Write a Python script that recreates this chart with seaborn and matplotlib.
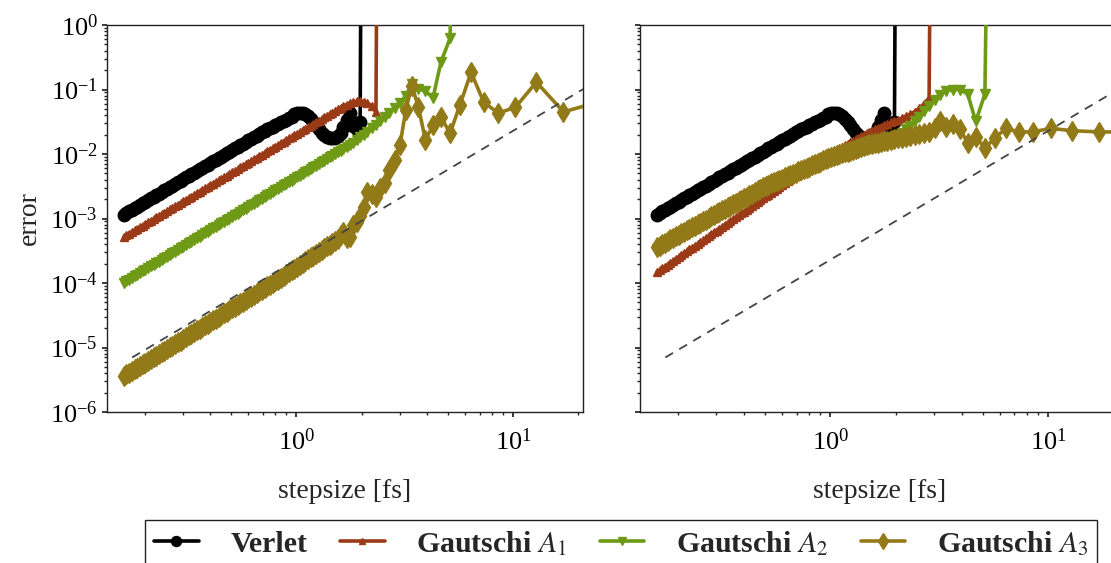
import matplotlib
matplotlib.use("Agg")
import matplotlib.pyplot as plt
import matplotlib.ticker as ticker
import seaborn as sns

# ── Data ──────────────────────────────────────────────────────────────────────
# stepsizes in fs: dense sweep up to ~1.5 fs, then the coarse steps

STEPSIZE = [
    0.1600, 0.1647, 0.1695, 0.1744, 0.1795, 0.1848, 0.1902, 0.1957, 0.2014, 0.2073,
    0.2134, 0.2196, 0.2260, 0.2326, 0.2394, 0.2464, 0.2536, 0.2610, 0.2686, 0.2764,
    0.2845, 0.2928, 0.3014, 0.3102, 0.3192, 0.3286, 0.3382, 0.3480, 0.3582, 0.3687,
    0.3794, 0.3905, 0.4019, 0.4136, 0.4257, 0.4381, 0.4509, 0.4641, 0.4777, 0.4916,
    0.5060, 0.5207, 0.5360, 0.5516, 0.5677, 0.5843, 0.6013, 0.6189, 0.6370, 0.6556,
    0.6747, 0.6944, 0.7147, 0.7356, 0.7570, 0.7792, 0.8019, 0.8253, 0.8494, 0.8742,
    0.8997, 0.9260, 0.9531, 0.9809, 1.0095, 1.0390, 1.0693, 1.1006, 1.1327, 1.1658,
    1.1998, 1.2349, 1.2709, 1.3080, 1.3462, 1.3855, 1.4260, 1.4676, 1.5105,
    1.55, 1.60, 1.65, 1.71, 1.77, 1.83, 1.90, 1.97, 2.05, 2.13,
    2.23, 2.33, 2.44, 2.56, 2.69, 2.84, 3.01, 3.20, 3.41, 3.66,
    3.94, 4.27, 4.65, 5.12, 5.69, 6.40, 7.31, 8.53, 10.24, 12.80,
    17.07, 25.60,
]

BLOWUP = 1e10  # diverged run, the line leaves through the top of the axes

VERLET = [
    1.150e-3, 1.218e-3, 1.290e-3, 1.367e-3, 1.448e-3, 1.534e-3, 1.624e-3, 1.721e-3, 1.823e-3, 1.931e-3,
    2.045e-3, 2.166e-3, 2.295e-3, 2.431e-3, 2.575e-3, 2.727e-3, 2.889e-3, 3.060e-3, 3.241e-3, 3.433e-3,
    3.637e-3, 3.852e-3, 4.080e-3, 4.322e-3, 4.578e-3, 4.850e-3, 5.137e-3, 5.441e-3, 5.764e-3, 6.105e-3,
    6.467e-3, 6.850e-3, 7.256e-3, 7.686e-3, 8.141e-3, 8.624e-3, 9.135e-3, 9.676e-3, 1.025e-2, 1.086e-2,
    1.150e-2, 1.218e-2, 1.290e-2, 1.367e-2, 1.448e-2, 1.534e-2, 1.624e-2, 1.721e-2, 1.823e-2, 1.930e-2,
    2.050e-2, 2.160e-2, 2.280e-2, 2.400e-2, 2.530e-2, 2.660e-2, 2.800e-2, 2.950e-2, 3.100e-2, 3.250e-2,
    3.400e-2, 3.600e-2, 3.800e-2, 4.100e-2, 4.250e-2, 4.300e-2, 4.250e-2, 4.100e-2, 3.850e-2, 3.500e-2,
    3.150e-2, 2.800e-2, 2.450e-2, 2.150e-2, 1.950e-2, 1.820e-2, 1.760e-2, 1.750e-2, 1.780e-2,
    0.0190, 0.0215, 0.0260, 0.0340, 0.0430, 0.0270, 0.0240, 0.0310, BLOWUP,
]

# left panel
A1_LEFT = [
    5.20e-4, 5.51e-4, 5.83e-4, 6.18e-4, 6.55e-4, 6.93e-4, 7.35e-4, 7.78e-4, 8.24e-4, 8.73e-4,
    9.25e-4, 9.79e-4, 1.038e-3, 1.099e-3, 1.164e-3, 1.233e-3, 1.306e-3, 1.384e-3, 1.466e-3, 1.552e-3,
    1.644e-3, 1.742e-3, 1.845e-3, 1.954e-3, 2.070e-3, 2.193e-3, 2.323e-3, 2.460e-3, 2.606e-3, 2.761e-3,
    2.924e-3, 3.097e-3, 3.281e-3, 3.475e-3, 3.681e-3, 3.899e-3, 4.131e-3, 4.375e-3, 4.635e-3, 4.909e-3,
    5.200e-3, 5.508e-3, 5.834e-3, 6.180e-3, 6.546e-3, 6.934e-3, 7.345e-3, 7.780e-3, 8.241e-3, 8.730e-3,
    9.247e-3, 9.795e-3, 1.038e-2, 1.099e-2, 1.164e-2, 1.233e-2, 1.306e-2, 1.384e-2, 1.466e-2, 1.552e-2,
    1.644e-2, 1.742e-2, 1.845e-2, 1.954e-2, 2.070e-2, 2.193e-2, 2.323e-2, 2.460e-2, 2.606e-2, 2.761e-2,
    2.924e-2, 3.097e-2, 3.281e-2, 3.475e-2, 3.681e-2, 3.899e-2, 4.131e-2, 4.375e-2, 4.635e-2,
    0.0495, 0.0525, 0.0555, 0.0585, 0.0615, 0.0635, 0.0655, 0.0660, 0.0650, 0.0620,
    0.0550, 0.0440, BLOWUP,
]
A2_LEFT = [
    1.000e-4, 1.061e-4, 1.125e-4, 1.194e-4, 1.266e-4, 1.343e-4, 1.425e-4, 1.511e-4, 1.603e-4, 1.701e-4,
    1.804e-4, 1.914e-4, 2.030e-4, 2.153e-4, 2.284e-4, 2.423e-4, 2.570e-4, 2.727e-4, 2.892e-4, 3.068e-4,
    3.255e-4, 3.453e-4, 3.662e-4, 3.885e-4, 4.121e-4, 4.371e-4, 4.637e-4, 4.919e-4, 5.218e-4, 5.535e-4,
    5.872e-4, 6.228e-4, 6.607e-4, 7.008e-4, 7.434e-4, 7.887e-4, 8.366e-4, 8.874e-4, 9.413e-4, 9.985e-4,
    1.059e-3, 1.124e-3, 1.192e-3, 1.264e-3, 1.341e-3, 1.423e-3, 1.509e-3, 1.601e-3, 1.698e-3, 1.802e-3,
    1.911e-3, 2.027e-3, 2.150e-3, 2.281e-3, 2.420e-3, 2.567e-3, 2.723e-3, 2.888e-3, 3.064e-3, 3.250e-3,
    3.448e-3, 3.657e-3, 3.879e-3, 4.115e-3, 4.365e-3, 4.631e-3, 4.912e-3, 5.210e-3, 5.527e-3, 5.863e-3,
    6.219e-3, 6.598e-3, 6.999e-3, 7.424e-3, 7.875e-3, 8.354e-3, 8.862e-3, 9.401e-3, 9.972e-3,
    0.0106, 0.0112, 0.0120, 0.0130, 0.0140, 0.0150, 0.0165, 0.0182, 0.0200, 0.0222,
    0.0250, 0.0280, 0.0320, 0.0370, 0.0430, 0.0510, 0.0620, 0.0800, 0.1220, 0.1020,
    0.0950, 0.0740, 0.2700, 0.6200, BLOWUP,
]
A3_LEFT = [
    3.600e-6, 3.825e-6, 4.063e-6, 4.316e-6, 4.585e-6, 4.870e-6, 5.174e-6, 5.496e-6, 5.838e-6, 6.202e-6,
    6.589e-6, 6.999e-6, 7.435e-6, 7.898e-6, 8.391e-6, 8.914e-6, 9.469e-6, 1.006e-5, 1.069e-5, 1.135e-5,
    1.206e-5, 1.281e-5, 1.361e-5, 1.446e-5, 1.536e-5, 1.631e-5, 1.733e-5, 1.841e-5, 1.956e-5, 2.077e-5,
    2.207e-5, 2.344e-5, 2.491e-5, 2.646e-5, 2.811e-5, 2.986e-5, 3.172e-5, 3.369e-5, 3.579e-5, 3.802e-5,
    4.039e-5, 4.291e-5, 4.558e-5, 4.842e-5, 5.144e-5, 5.465e-5, 5.805e-5, 6.167e-5, 6.551e-5, 6.959e-5,
    7.393e-5, 7.854e-5, 8.343e-5, 8.863e-5, 9.415e-5, 1.000e-4, 1.063e-4, 1.129e-4, 1.206e-4, 1.289e-4,
    1.376e-4, 1.470e-4, 1.571e-4, 1.677e-4, 1.792e-4, 1.914e-4, 2.045e-4, 2.184e-4, 2.333e-4, 2.490e-4,
    2.659e-4, 2.841e-4, 3.034e-4, 3.240e-4, 3.460e-4, 3.694e-4, 3.944e-4, 4.212e-4, 4.496e-4,
    4.8e-4, 5.5e-4, 6.2e-4, 5.0e-4, 5.2e-4, 8.0e-4, 8.8e-4, 1.1e-3, 1.5e-3, 2.6e-3,
    2.4e-3, 2.15e-3, 3.0e-3, 3.6e-3, 5.6e-3, 8.0e-3, 0.0140, 0.0480, 0.1150, 0.0530,
    0.0165, 0.0280, 0.0370, 0.0210, 0.0580, 0.1850, 0.0640, 0.0430, 0.0530, 0.1300,
    0.0450, 0.0660,
]

# right panel
A1_RIGHT = [
    1.470e-4, 1.573e-4, 1.683e-4, 1.801e-4, 1.927e-4, 2.062e-4, 2.206e-4, 2.361e-4, 2.526e-4, 2.703e-4,
    2.891e-4, 3.093e-4, 3.310e-4, 3.541e-4, 3.789e-4, 4.054e-4, 4.338e-4, 4.642e-4, 4.967e-4, 5.314e-4,
    5.684e-4, 6.082e-4, 6.508e-4, 6.963e-4, 7.451e-4, 7.972e-4, 8.530e-4, 9.127e-4, 9.766e-4, 1.045e-3,
    1.118e-3, 1.196e-3, 1.280e-3, 1.369e-3, 1.465e-3, 1.568e-3, 1.677e-3, 1.795e-3, 1.920e-3, 2.055e-3,
    2.198e-3, 2.352e-3, 2.516e-3, 2.692e-3, 2.881e-3, 3.083e-3, 3.298e-3, 3.529e-3, 3.776e-3, 4.041e-3,
    4.322e-3, 4.625e-3, 4.948e-3, 5.295e-3, 5.665e-3, 6.062e-3, 6.486e-3, 6.940e-3, 7.426e-3, 7.843e-3,
    8.284e-3, 8.750e-3, 9.241e-3, 9.761e-3, 1.031e-2, 1.089e-2, 1.150e-2, 1.215e-2, 1.283e-2, 1.355e-2,
    1.431e-2, 1.511e-2, 1.596e-2, 1.686e-2, 1.781e-2, 1.881e-2, 1.987e-2, 2.098e-2, 2.216e-2,
    0.0230, 0.0242, 0.0253, 0.0266, 0.0280, 0.0294, 0.0308, 0.0323, 0.0340, 0.0360,
    0.0385, 0.0415, 0.0455, 0.0510, 0.0600, 0.0740, BLOWUP,
]
A2_RIGHT = [
    3.31e-4, 3.50e-4, 3.69e-4, 3.90e-4, 4.12e-4, 4.35e-4, 4.60e-4, 4.86e-4, 5.13e-4, 5.42e-4,
    5.72e-4, 6.04e-4, 6.38e-4, 6.74e-4, 7.12e-4, 7.52e-4, 7.95e-4, 8.39e-4, 8.86e-4, 9.37e-4,
    9.89e-4, 1.044e-3, 1.103e-3, 1.165e-3, 1.231e-3, 1.300e-3, 1.373e-3, 1.450e-3, 1.532e-3, 1.617e-3,
    1.708e-3, 1.804e-3, 1.906e-3, 2.013e-3, 2.126e-3, 2.246e-3, 2.372e-3, 2.505e-3, 2.646e-3, 2.795e-3,
    2.952e-3, 3.082e-3, 3.218e-3, 3.360e-3, 3.508e-3, 3.663e-3, 3.824e-3, 3.993e-3, 4.169e-3, 4.353e-3,
    4.545e-3, 4.745e-3, 4.954e-3, 5.173e-3, 5.401e-3, 5.640e-3, 5.888e-3, 6.147e-3, 6.419e-3, 6.702e-3,
    6.998e-3, 7.307e-3, 7.629e-3, 7.965e-3, 8.317e-3, 8.610e-3, 8.910e-3, 9.220e-3, 9.550e-3, 9.880e-3,
    1.023e-2, 1.059e-2, 1.096e-2, 1.134e-2, 1.174e-2, 1.215e-2, 1.258e-2, 1.302e-2, 1.348e-2,
    0.0138, 0.0143, 0.0148, 0.0153, 0.0159, 0.0166, 0.0174, 0.0184, 0.0198, 0.0215,
    0.0240, 0.0275, 0.0320, 0.0380, 0.0460, 0.0560, 0.0680, 0.0830, 0.0960, 0.1000,
    0.1000, 0.0850, 0.0320, 0.0850, BLOWUP,
]
A3_RIGHT = [
    3.600e-4, 3.802e-4, 4.016e-4, 4.242e-4, 4.480e-4, 4.732e-4, 4.998e-4, 5.279e-4, 5.576e-4, 5.889e-4,
    6.220e-4, 6.570e-4, 6.939e-4, 7.329e-4, 7.741e-4, 8.177e-4, 8.636e-4, 9.122e-4, 9.634e-4, 1.018e-3,
    1.075e-3, 1.135e-3, 1.199e-3, 1.266e-3, 1.338e-3, 1.413e-3, 1.492e-3, 1.576e-3, 1.665e-3, 1.758e-3,
    1.857e-3, 1.961e-3, 2.072e-3, 2.188e-3, 2.311e-3, 2.441e-3, 2.578e-3, 2.723e-3, 2.876e-3, 3.038e-3,
    3.209e-3, 3.350e-3, 3.498e-3, 3.652e-3, 3.813e-3, 3.981e-3, 4.157e-3, 4.340e-3, 4.531e-3, 4.731e-3,
    4.940e-3, 5.158e-3, 5.385e-3, 5.623e-3, 5.871e-3, 6.130e-3, 6.400e-3, 6.682e-3, 6.977e-3, 7.285e-3,
    7.606e-3, 7.942e-3, 8.292e-3, 8.658e-3, 9.040e-3, 9.330e-3, 9.630e-3, 9.940e-3, 1.026e-2, 1.059e-2,
    1.093e-2, 1.128e-2, 1.164e-2, 1.201e-2, 1.239e-2, 1.279e-2, 1.320e-2, 1.362e-2, 1.406e-2,
    0.0143, 0.0147, 0.0150, 0.0153, 0.0157, 0.0161, 0.0165, 0.0170, 0.0175, 0.0180,
    0.0185, 0.0190, 0.0196, 0.0202, 0.0210, 0.0220, 0.0250, 0.0320, 0.0260, 0.0290,
    0.0240, 0.0148, 0.0185, 0.0123, 0.0177, 0.0250, 0.0220, 0.0220, 0.0250, 0.0230,
    0.0220, 0.0220,
]

# second-order reference slope (dashed)
REF_STEPSIZE = [0.175, 25.6]
REF_ERROR = [7.0e-6, 0.150]

LABELS = ["Verlet", "Gautschi $A_1$", "Gautschi $A_2$", "Gautschi $A_3$"]
COLORS = ["#000000", "#9b3a17", "#6e9a15", "#937a18"]
MARKERS = ["o", "^", "v", "d"]
MSIZES = [9, 6, 6.5, 10]

# ── Style ─────────────────────────────────────────────────────────────────────

sns.set_theme(style="ticks")
plt.rcParams["font.family"] = ["Liberation Serif", "DejaVu Serif"]
plt.rcParams.update({
    "mathtext.fontset": "stix",
    "axes.edgecolor": "#222222",
    "axes.linewidth": 1.0,
    "xtick.color": "#222222",
    "ytick.color": "#222222",
    "xtick.labelcolor": "black",
    "ytick.labelcolor": "black",
    "xtick.direction": "out",
    "ytick.direction": "out",
    "xtick.major.size": 3.5,
    "ytick.major.size": 3.5,
    "xtick.minor.size": 2.2,
    "ytick.minor.size": 2.2,
    "xtick.labelsize": 19,
    "ytick.labelsize": 19,
})

fig = plt.figure(figsize=(11.11, 5.63), dpi=100)
W, H = 1111, 563
ax_l = fig.add_axes([107 / W, (H - 412) / H, 476 / W, 387 / H])
ax_r = fig.add_axes([640 / W, (H - 412) / H, 478.5 / W, 387 / H])


def draw_panel(ax, series):
    for i, vals in enumerate(series):
        sns.lineplot(
            x=STEPSIZE[:len(vals)], y=vals, ax=ax, sort=False, estimator=None,
            color=COLORS[i], marker=MARKERS[i], markersize=MSIZES[i],
            markeredgecolor=COLORS[i], markeredgewidth=1.0,
            linewidth=2.6, label=LABELS[i], legend=False, zorder=2 + i,
        )
    sns.lineplot(x=REF_STEPSIZE, y=REF_ERROR, ax=ax, color="#444444",
                 linewidth=1.3, linestyle=(0, (5, 4)), zorder=10, legend=False)
    ax.set(xscale="log", yscale="log", xlim=(0.134, 21.0), ylim=(1e-6, 1.0))
    ax.xaxis.set_major_locator(ticker.LogLocator(base=10, numticks=10))
    ax.xaxis.set_minor_locator(ticker.LogLocator(base=10, subs=range(2, 10), numticks=20))
    ax.yaxis.set_major_locator(ticker.LogLocator(base=10, numticks=10))
    ax.yaxis.set_minor_locator(ticker.LogLocator(base=10, subs=range(2, 10), numticks=20))
    ax.xaxis.set_minor_formatter(ticker.NullFormatter())
    ax.set_xlabel("stepsize [fs]", fontsize=20, labelpad=18)
    ax.tick_params(axis="x", which="major", pad=8)
    ax.tick_params(axis="y", which="major", pad=3)


draw_panel(ax_l, [VERLET, A1_LEFT, A2_LEFT, A3_LEFT])
draw_panel(ax_r, [VERLET, A1_RIGHT, A2_RIGHT, A3_RIGHT])

ax_l.set_ylabel("error", fontsize=20, labelpad=6)
ax_r.set_ylabel("")
ax_r.tick_params(axis="y", which="both", labelleft=False)

handles, labels = ax_l.get_legend_handles_labels()
handles, labels = handles[:4], labels[:4]
leg = fig.legend(
    handles, labels, loc="upper center", bbox_to_anchor=(0.559, 1 - 520 / H), ncol=4,
    frameon=True, fancybox=False, framealpha=1.0, edgecolor="#222222",
    prop={"weight": "bold", "size": 21.5}, handlelength=1.5, columnspacing=1.1,
    handletextpad=1.05, borderpad=0.3, borderaxespad=0.0, numpoints=1, markerscale=0.8,
)
leg.get_frame().set_linewidth(1.0)

fig.savefig("out.png", dpi=100)
